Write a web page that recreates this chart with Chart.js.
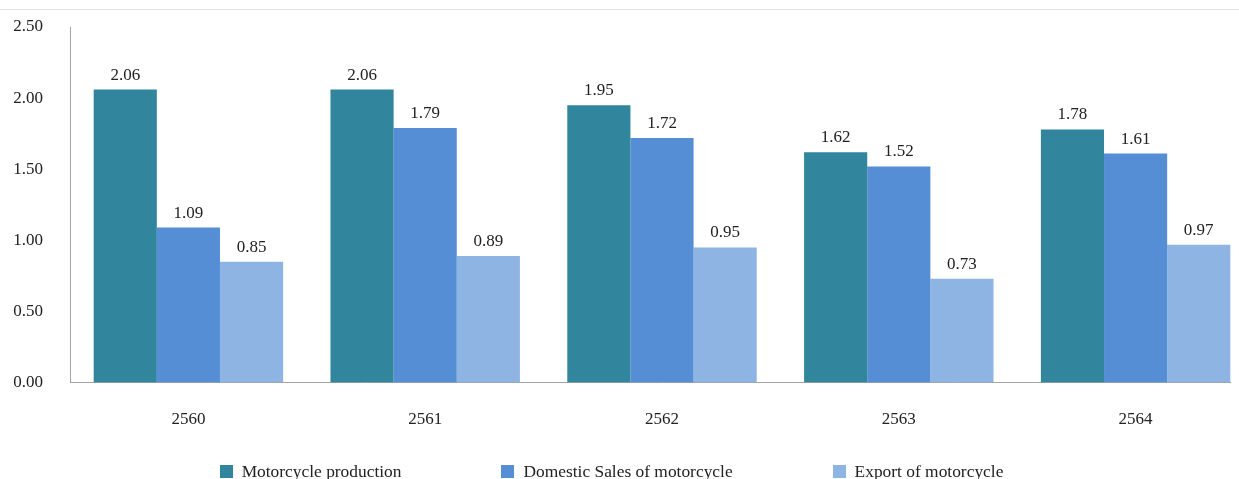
<!DOCTYPE html>
<html>
<head>
<meta charset="utf-8">
<title>Motorcycle production, domestic sales and export</title>
<script src="https://cdn.jsdelivr.net/npm/chart.js@4/dist/chart.umd.min.js"></script>
<style>
  html, body { margin: 0; padding: 0; background: #fff; }
  body { width: 1239px; height: 479px; position: relative; overflow: hidden; }
  .top-rule { position: absolute; left: 0; top: 9px; width: 100%; height: 1px; background: #e3e3e3; }
  /* plot is cropped on the right like the source image */
  .chart-wrap { position: absolute; left: 0; top: 0; width: 1231px; height: 479px; overflow: hidden; }
  .legend {
    position: absolute; left: 0; top: 461px; width: 1223px; height: 20px;
    display: flex; justify-content: center; gap: 100px;
    font-family: "Liberation Serif", "Times New Roman", serif; font-size: 17.4px; color: #222;
  }
  .legend span { display: flex; align-items: center; white-space: nowrap; }
  .legend i { display: inline-block; width: 13px; height: 13px; margin-right: 9px; }
</style>
</head>
<body>
<div class="top-rule"></div>
<div class="chart-wrap">
  <canvas id="chart" width="1255" height="479"></canvas>
</div>
<div class="legend" id="legend"></div>

<script>
// ── Data ─────────────────────────────────────────────────────
const years         = ['2560', '2561', '2562', '2563', '2564'];
const production    = [2.06, 2.06, 1.95, 1.62, 1.78];
const domesticSales = [1.09, 1.79, 1.72, 1.52, 1.61];
const exports       = [0.85, 0.89, 0.95, 0.73, 0.97];

const seriesNames  = ['Motorcycle production', 'Domestic Sales of motorcycle', 'Export of motorcycle'];
const seriesColors = ['#31859c', '#558ed5', '#8eb4e3'];

const FONT = '"Liberation Serif", "Times New Roman", serif';
const TEXT = '#222';
const AXIS = '#a3a3a3';

// ── Value labels above each bar ──────────────────────────────
const valueLabels = {
  id: 'valueLabels',
  afterDatasetsDraw(chart) {
    const ctx = chart.ctx;
    ctx.save();
    ctx.font = `17px ${FONT}`;
    ctx.fillStyle = TEXT;
    ctx.textAlign = 'center';
    ctx.textBaseline = 'alphabetic';
    chart.data.datasets.forEach((ds, i) => {
      chart.getDatasetMeta(i).data.forEach((bar, j) => {
        ctx.fillText(ds.data[j].toFixed(2), bar.x, bar.y - 10);
      });
    });
    ctx.restore();
  }
};

// ── Chart ─────────────────────────────────────────────────────
const datasets = [production, domesticSales, exports].map((data, i) => ({
  label: seriesNames[i],
  data,
  backgroundColor: seriesColors[i],
  borderWidth: 0,
  categoryPercentage: 0.8,
  barPercentage: 1.0,
}));

new Chart(document.getElementById('chart'), {
  type: 'bar',
  data: { labels: years, datasets },
  options: {
    responsive: false,
    animation: false,
    layout: { padding: { left: 13, right: 1, top: 27, bottom: 22 } },
    plugins: {
      legend: { display: false },
      tooltip: { enabled: false },
    },
    scales: {
      x: {
        grid: { display: false, drawTicks: false },
        border: { display: true, color: AXIS, width: 1 },
        ticks: { color: TEXT, padding: 27, font: { family: FONT, size: 17 } },
      },
      y: {
        min: 0,
        max: 2.5,
        grid: { display: false, drawTicks: false },
        border: { display: true, color: AXIS, width: 1 },
        ticks: {
          stepSize: 0.5,
          color: TEXT,
          padding: 27,
          font: { family: FONT, size: 17 },
          callback: (v) => Number(v).toFixed(2),
        },
        // label column (~30px) + gap to the axis line; top label may overhang
        afterFit: (scale) => {
          scale.width = 57;
          scale.paddingTop = 0;
          scale.paddingBottom = 0;
        },
      },
    },
  },
  plugins: [valueLabels],
});

// ── Legend (HTML, spaced like the source) ────────────────────
const legendEl = document.getElementById('legend');
seriesNames.forEach((name, i) => {
  const item = document.createElement('span');
  item.innerHTML = `<i style="background:${seriesColors[i]}"></i>${name}`;
  legendEl.appendChild(item);
});
</script>
</body>
</html>
